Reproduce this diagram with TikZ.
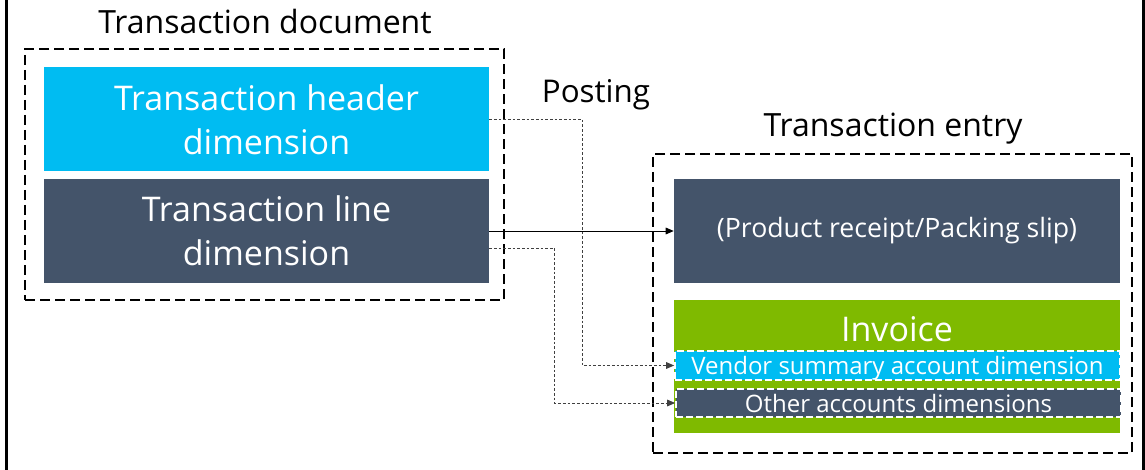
\documentclass[tikz,border=0pt]{standalone}
\usepackage{fontspec}
\setmainfont{Open Sans}
\usetikzlibrary{arrows.meta,fit}
\definecolor{hdrcyan}{RGB}{0,188,242}
\definecolor{slate}{RGB}{68,84,106}
\definecolor{invgreen}{RGB}{127,186,0}

\begin{document}
\begin{tikzpicture}[
  x=0.75pt, y=-0.75pt,
  title/.style={font=\fontsize{24}{29}\selectfont, text=black},
  dimbox/.style={minimum width=445*0.75pt, minimum height=104*0.75pt, inner sep=0pt, text=white, align=center, font=\fontsize{25.5}{33}\selectfont},
  group/.style={draw=black, line width=1.5pt, dash pattern=on 7.5pt off 3.75pt, inner sep=0pt},
  bar/.style={draw=white, line width=1.3pt, dash pattern=on 5pt off 2.5pt, minimum width=445*0.75pt, inner sep=0pt, text depth=0pt, text=white, font=\fontsize{18}{22}\selectfont},
  post/.style={-{Triangle[length=6pt,width=5pt]}, line width=0.7pt},
  postdash/.style={post, draw=black!75, dash pattern=on 2pt off 1.5pt},
]
\useasboundingbox (0,0) rectangle (1145,470);

% frame
\draw[line width=1.9pt] (6.5,0) -- (6.5,470);
\draw[line width=1.9pt] (1143.5,0) -- (1143.5,470);

% --- Transaction document ---
\node[title] (doctitle) at (265,22) {Transaction document};
\node[group, fit={(25,49) (504,300)}] (docbox) {};
\node[dimbox, fill=hdrcyan] (hdr) at (266.5,119.5) {Transaction header\\dimension};
\node[dimbox, fill=slate] (ln) at (266.5,231) {Transaction line\\dimension};

\node[title, font=\fontsize{23.5}{28}\selectfont] (posting) at (596,95) {Posting};

% --- Transaction entry ---
\node[title] (entrytitle) at (893,129) {Transaction entry};
\node[group, fit={(653,154) (1132,453)}] (entrybox) {};
\node[dimbox, fill=slate, minimum width=446*0.75pt, font=\fontsize{20}{24}\selectfont] (prod) at (897,231) {(Product receipt/Packing slip)};

% Invoice with its two account bars
\node[fill=invgreen, minimum width=446*0.75pt, minimum height=133*0.75pt, inner sep=0pt] (inv) at (897,366.5) {};
\node[text=white, font=\fontsize{25.5}{30}\selectfont] (invtxt) at (897,329) {Invoice};
\node[bar, fill=hdrcyan, minimum height=29*0.75pt] (vendor) at (897.5,365.5) {Vendor summary account dimension};
\node[bar, fill=slate, minimum height=28*0.75pt] (other) at (898.5,403) {Other accounts dimensions};

% Posting connectors
\draw[post] (ln.east) -- (prod.west);
\draw[postdash] (hdr.east) -- ++(93,0) |- (vendor.west);
\draw[postdash] (ln.east) ++(0,17) -- ++(65,0) |- (other.west);

\end{tikzpicture}
\end{document}
